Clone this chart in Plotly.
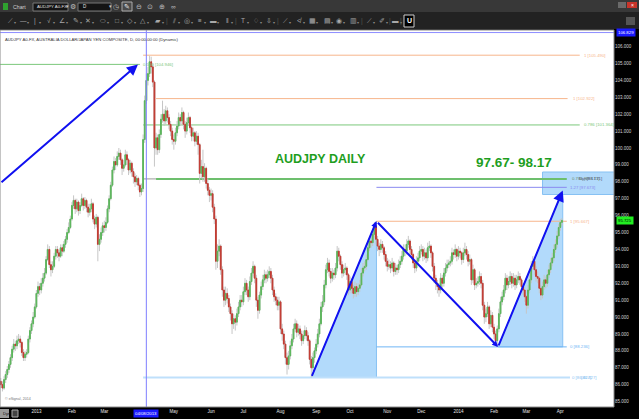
import numpy as np
import pandas as pd
import plotly.graph_objects as go

# ---------------- data (AUDJPY daily) ----------------
opens = [
    86.2, 86.0, 85.8, 86.3, 86.6,  86.9, 87.2, 87.6, 88.1, 88.4,
    88.3, 88.6, 88.7, 88.5, 87.9,  87.6, 87.8, 87.9, 88.7, 89.2,
    89.6, 90.0, 90.6, 91.4, 91.8,  91.6, 92.0, 92.3, 92.6, 93.4,
    94.0, 93.1, 92.8, 93.0, 93.6,  94.0, 93.8, 93.6, 94.1, 93.9,
    94.3, 94.6, 95.0, 95.3, 95.8,  96.6, 96.9, 96.4, 96.8, 96.3,
    96.6, 97.0, 96.6, 96.9, 96.5,  96.2, 96.4, 96.7, 95.8, 95.5,
    95.9, 94.3, 94.6, 95.0, 95.4,  95.3, 95.6, 96.4, 97.0, 97.8,
    98.7, 99.2, 99.0, 99.5, 99.7,  99.3, 98.8, 99.0, 99.6, 99.3,
    98.7, 99.1, 98.6, 98.3, 98.0,  98.2, 97.8, 97.4, 97.6, 100.5,
    102.8, 104.0, 104.4, 105.1, 104.8,  103.9, 100.0, 100.6, 99.9, 100.8,
    101.7, 102.0, 101.6, 102.2, 101.8,  101.4, 101.0, 100.5, 100.4, 100.9,
    101.3, 101.8, 101.6, 102.1, 101.4,  101.0, 101.5, 101.8, 101.2, 100.7,
    100.9, 100.4, 100.7, 100.2, 98.5,  98.9, 98.3, 98.8, 97.9, 97.5,
    97.2, 97.3, 96.5, 95.8, 93.3,  93.9, 94.2, 92.8, 91.6, 91.0,
    91.4, 91.1, 90.6, 90.2, 89.6,  89.9, 89.7, 90.2, 90.6, 91.0,
    90.9, 91.5, 92.0, 91.6, 91.2,  92.1, 92.6, 93.0, 92.3, 91.0,
    90.4, 91.3, 91.8, 92.2, 92.5,  92.3, 92.5, 92.7, 92.3, 91.6,
    91.2, 91.0, 90.7, 90.9, 89.3,  89.0, 88.4, 87.6, 87.2, 87.7,
    88.3, 88.7, 89.3, 89.6, 89.1,  89.3, 89.0, 88.6, 88.9, 89.2,
    88.9, 88.6, 87.5, 87.0, 87.6,  88.0, 88.4, 89.0, 89.6, 90.6,
    90.9, 91.9, 92.8, 93.2, 92.7,  92.3, 92.6, 92.5, 92.9, 93.9,
    93.6, 93.1, 92.6, 92.8, 92.9,  92.5, 91.6, 92.1, 91.7, 91.4,
    91.8, 91.5, 91.7, 91.9, 92.6,  92.9, 93.0, 93.4, 94.1, 94.5,
    94.4, 94.9, 95.4, 94.6, 94.2,  94.0, 94.3, 94.1, 93.7, 93.3,
    93.0, 93.1, 92.9, 93.2, 92.7,  92.9, 92.8, 93.1, 93.3, 93.6,
    94.0, 93.9, 94.3, 94.5, 94.0,  93.7, 93.2, 92.9, 93.3, 93.5,
    93.9, 94.0, 93.6, 93.8, 93.5,  94.1, 94.2, 93.8, 93.0, 92.3,
    92.0, 91.8, 91.6, 92.3, 92.0,  92.6, 92.9, 93.1, 93.2, 93.3,
    93.8, 93.7, 94.0, 93.6, 93.9,  93.8, 93.4, 93.8, 94.0, 93.7,
    93.3, 93.4, 92.2, 92.8, 91.9,  92.0, 92.1, 92.4, 92.0, 90.7,
    90.0, 90.2, 90.6, 89.6, 90.1,  89.4, 89.0, 88.6, 89.3, 90.2,
    90.9, 91.2, 91.6, 92.3, 91.9,  92.1, 92.4, 92.0, 92.3, 91.9,
    92.2, 92.4, 92.2, 91.8, 91.6,  91.2, 90.7, 91.6, 92.2, 93.0,
    93.3, 92.8, 92.4, 92.3, 91.7,  91.3, 91.8, 92.2, 92.0, 92.5,
    92.8, 93.2, 93.5, 94.0, 94.3,  94.8, 95.3, 95.6,
]
highs = [
    86.4, 86.2, 86.5, 86.8, 87.1,  87.4, 87.8, 88.3, 88.7, 88.6,
    88.9, 89.0, 88.9, 88.6, 88.1,  88.0, 88.1, 88.9, 89.4, 89.8,
    90.3, 90.8, 91.6, 92.1, 92.0,  92.3, 92.6, 92.9, 93.6, 94.3,
    94.2, 93.3, 93.3, 93.8, 94.2,  94.2, 94.0, 94.3, 94.3, 94.5,
    94.8, 95.2, 95.6, 96.0, 96.8,  97.2, 97.0, 97.0, 96.9, 96.8,
    97.3, 97.1, 97.1, 97.0, 96.7,  96.7, 97.0, 96.8, 96.0, 96.1,
    96.0, 94.9, 95.3, 95.6, 95.7,  95.9, 96.6, 97.2, 98.0, 98.9,
    99.5, 99.4, 99.8, 100.0, 99.9,  99.4, 99.3, 99.9, 99.8, 99.4,
    99.3, 99.2, 98.8, 98.5, 98.4,  98.3, 97.9, 97.9, 100.8, 103.1,
    104.4, 104.8, 105.45, 105.4, 105.0,  104.0, 100.9, 100.8, 101.1, 102.0,
    102.8, 102.3, 102.5, 102.4, 102.0,  101.6, 101.2, 100.8, 101.2, 101.6,
    102.1, 102.0, 102.4, 102.2, 101.6,  101.8, 102.1, 101.9, 101.4, 101.2,
    101.0, 101.0, 100.9, 100.3, 99.3,  99.9, 99.1, 98.9, 98.2, 97.7,
    97.6, 97.5, 96.7, 96.0, 94.3,  94.6, 94.3, 93.0, 91.8, 91.8,
    91.7, 91.3, 90.8, 90.4, 90.2,  90.1, 90.5, 90.9, 91.3, 91.3,
    91.8, 92.3, 92.2, 91.8, 92.4,  92.9, 93.3, 93.1, 92.5, 91.2,
    91.5, 92.1, 92.5, 92.8, 92.7,  92.8, 93.0, 92.9, 92.5, 91.8,
    91.4, 91.2, 91.2, 91.0, 89.6,  89.2, 88.6, 87.9, 88.0, 88.6,
    89.0, 89.6, 89.9, 89.8, 89.6,  89.5, 89.2, 89.2, 89.5, 89.4,
    89.1, 88.7, 87.7, 87.9, 88.2,  88.7, 89.3, 89.9, 90.9, 91.3,
    92.2, 93.1, 93.5, 93.4, 92.9,  92.9, 92.8, 93.2, 94.2, 94.1,
    93.7, 93.3, 93.1, 93.2, 93.0,  92.6, 92.4, 92.3, 91.9, 92.1,
    92.0, 92.0, 92.2, 92.9, 93.2,  93.3, 93.7, 94.4, 94.8, 94.8,
    95.2, 95.6, 95.667, 94.8, 94.4,  94.6, 94.5, 94.2, 93.9, 93.5,
    93.4, 93.3, 93.5, 93.3, 93.2,  93.1, 93.4, 93.6, 93.9, 94.3,
    94.3, 94.6, 94.8, 94.6, 94.2,  93.8, 93.4, 93.6, 93.8, 94.2,
    94.3, 94.2, 94.1, 94.0, 94.4,  94.5, 94.3, 93.9, 93.2, 92.5,
    92.2, 92.0, 92.6, 92.5, 92.9,  93.2, 93.4, 93.4, 93.6, 94.1,
    94.0, 94.3, 94.1, 94.2, 94.1,  93.9, 94.1, 94.4, 94.2, 93.9,
    93.7, 93.5, 93.1, 92.9, 92.3,  92.4, 92.7, 92.6, 92.2, 90.9,
    90.5, 90.9, 90.7, 90.4, 90.3,  89.6, 89.2, 89.5, 90.5, 91.2,
    91.5, 91.9, 92.6, 92.5, 92.4,  92.7, 92.6, 92.6, 92.5, 92.5,
    92.7, 92.6, 92.3, 92.0, 91.8,  91.3, 91.9, 92.5, 93.3, 93.6,
    93.4, 93.0, 92.7, 92.4, 91.9,  92.1, 92.5, 92.4, 92.8, 93.1,
    93.5, 93.8, 94.3, 94.6, 95.1,  95.5, 95.8, 95.85,
]
lows = [
    85.8, 85.6, 85.7, 86.1, 86.4,  86.7, 87.0, 87.4, 87.9, 88.0,
    88.1, 88.4, 88.2, 87.7, 87.4,  87.4, 87.6, 87.8, 88.5, 89.0,
    89.4, 89.9, 90.5, 91.2, 91.3,  91.4, 91.8, 92.1, 92.5, 93.3,
    92.9, 92.4, 92.6, 92.9, 93.4,  93.5, 93.3, 93.5, 93.6, 93.8,
    94.1, 94.4, 94.9, 95.2, 95.7,  96.4, 96.1, 96.2, 96.0, 96.1,
    96.5, 96.3, 96.4, 96.2, 95.9,  96.0, 96.2, 95.6, 95.2, 95.3,
    93.3, 93.9, 94.4, 94.8, 95.0,  95.1, 95.5, 96.2, 96.9, 97.7,
    98.5, 98.7, 98.9, 99.3, 99.0,  98.4, 98.6, 98.9, 99.0, 98.4,
    98.5, 98.3, 97.9, 97.7, 97.8,  97.5, 97.1, 97.2, 97.4, 100.3,
    102.6, 103.7, 104.2, 104.4, 103.6,  98.9, 99.6, 99.6, 99.7, 100.6,
    101.5, 101.3, 101.4, 101.5, 101.1,  100.7, 100.2, 99.9, 100.2, 100.7,
    101.1, 101.3, 101.4, 101.1, 100.6,  100.8, 101.3, 100.9, 100.4, 100.4,
    100.1, 100.2, 99.6, 97.9, 98.2,  98.0, 98.0, 97.6, 97.2, 96.8,
    96.9, 96.2, 95.5, 92.8, 92.9,  93.6, 92.5, 91.2, 90.6, 90.7,
    90.8, 90.3, 89.8, 89.0, 89.3,  89.2, 89.5, 90.0, 90.4, 90.6,
    90.7, 91.3, 91.3, 90.9, 91.0,  91.9, 92.4, 92.0, 90.6, 89.9,
    90.2, 91.1, 91.6, 92.0, 92.0,  92.1, 92.3, 92.0, 91.3, 90.9,
    90.7, 90.4, 90.4, 89.0, 88.6,  88.1, 87.2, 86.6, 86.9, 87.5,
    88.1, 88.5, 89.1, 88.8, 88.9,  88.7, 88.3, 88.4, 88.7, 88.6,
    88.3, 87.2, 86.43, 86.8, 87.3,  87.8, 88.2, 88.8, 89.5, 90.3,
    90.7, 91.7, 92.6, 92.4, 92.0,  92.1, 92.2, 92.3, 92.7, 93.3,
    92.8, 92.3, 92.4, 92.5, 92.2,  91.3, 91.4, 91.4, 91.1, 91.2,
    91.2, 91.3, 91.5, 91.8, 92.4,  92.7, 92.8, 93.3, 93.9, 94.1,
    94.2, 94.7, 94.3, 93.9, 93.6,  93.8, 93.8, 93.4, 93.0, 92.7,
    92.8, 92.6, 92.7, 92.4, 92.5,  92.5, 92.6, 92.9, 93.1, 93.4,
    93.6, 93.7, 94.1, 93.7, 93.4,  92.9, 92.6, 92.7, 93.1, 93.3,
    93.7, 93.3, 93.4, 93.2, 93.3,  93.9, 93.5, 92.7, 92.0, 91.6,
    91.4, 91.2, 91.4, 91.7, 91.8,  92.4, 92.7, 92.9, 93.0, 93.1,
    93.4, 93.5, 93.3, 93.4, 93.5,  93.1, 93.2, 93.6, 93.4, 93.0,
    93.1, 91.9, 92.0, 91.6, 91.7,  91.8, 91.9, 91.7, 90.4, 89.6,
    89.7, 90.0, 89.3, 89.4, 89.1,  88.7, 88.3, 88.236, 89.1, 90.0,
    90.7, 91.0, 91.4, 91.6, 91.7,  91.9, 91.7, 91.8, 91.6, 91.7,
    92.0, 91.9, 91.5, 91.3, 90.9,  90.2, 90.5, 91.4, 92.0, 92.8,
    92.5, 92.1, 92.0, 91.4, 91.0,  91.1, 91.6, 91.7, 91.8, 92.3,
    92.6, 93.0, 93.3, 93.8, 94.1,  94.6, 95.1, 95.4,
]
closes = [
    86.0, 85.8, 86.3, 86.6, 86.9,  87.2, 87.6, 88.1, 88.4, 88.3,
    88.6, 88.7, 88.5, 87.9, 87.6,  87.8, 87.9, 88.7, 89.2, 89.6,
    90.0, 90.6, 91.4, 91.8, 91.6,  92.0, 92.3, 92.6, 93.4, 94.0,
    93.1, 92.8, 93.0, 93.6, 94.0,  93.8, 93.6, 94.1, 93.9, 94.3,
    94.6, 95.0, 95.3, 95.8, 96.6,  96.9, 96.4, 96.8, 96.3, 96.6,
    97.0, 96.6, 96.9, 96.5, 96.2,  96.4, 96.7, 95.8, 95.5, 95.9,
    94.3, 94.6, 95.0, 95.4, 95.3,  95.6, 96.4, 97.0, 97.8, 98.7,
    99.2, 99.0, 99.5, 99.7, 99.3,  98.8, 99.0, 99.6, 99.3, 98.7,
    99.1, 98.6, 98.3, 98.0, 98.2,  97.8, 97.4, 97.6, 100.5, 102.8,
    104.0, 104.4, 105.1, 104.8, 103.9,  100.0, 100.6, 99.9, 100.8, 101.7,
    102.0, 101.6, 102.2, 101.8, 101.4,  101.0, 100.5, 100.4, 100.9, 101.3,
    101.8, 101.6, 102.1, 101.4, 101.0,  101.5, 101.8, 101.2, 100.7, 100.9,
    100.4, 100.7, 100.2, 98.5, 98.9,  98.3, 98.8, 97.9, 97.5, 97.2,
    97.3, 96.5, 95.8, 93.3, 93.9,  94.2, 92.8, 91.6, 91.0, 91.4,
    91.1, 90.6, 90.2, 89.6, 89.9,  89.7, 90.2, 90.6, 91.0, 90.9,
    91.5, 92.0, 91.6, 91.2, 92.1,  92.6, 93.0, 92.3, 91.0, 90.4,
    91.3, 91.8, 92.2, 92.5, 92.3,  92.5, 92.7, 92.3, 91.6, 91.2,
    91.0, 90.7, 90.9, 89.3, 89.0,  88.4, 87.6, 87.2, 87.7, 88.3,
    88.7, 89.3, 89.6, 89.1, 89.3,  89.0, 88.6, 88.9, 89.2, 88.9,
    88.6, 87.5, 87.0, 87.6, 88.0,  88.4, 89.0, 89.6, 90.6, 90.9,
    91.9, 92.8, 93.2, 92.7, 92.3,  92.6, 92.5, 92.9, 93.9, 93.6,
    93.1, 92.6, 92.8, 92.9, 92.5,  91.6, 92.1, 91.7, 91.4, 91.8,
    91.5, 91.7, 91.9, 92.6, 92.9,  93.0, 93.4, 94.1, 94.5, 94.4,
    94.9, 95.4, 94.6, 94.2, 94.0,  94.3, 94.1, 93.7, 93.3, 93.0,
    93.1, 92.9, 93.2, 92.7, 92.9,  92.8, 93.1, 93.3, 93.6, 94.0,
    93.9, 94.3, 94.5, 94.0, 93.7,  93.2, 92.9, 93.3, 93.5, 93.9,
    94.0, 93.6, 93.8, 93.5, 94.1,  94.2, 93.8, 93.0, 92.3, 92.0,
    91.8, 91.6, 92.3, 92.0, 92.6,  92.9, 93.1, 93.2, 93.3, 93.8,
    93.7, 94.0, 93.6, 93.9, 93.8,  93.4, 93.8, 94.0, 93.7, 93.3,
    93.4, 92.2, 92.8, 91.9, 92.0,  92.1, 92.4, 92.0, 90.7, 90.0,
    90.2, 90.6, 89.6, 90.1, 89.4,  89.0, 88.6, 89.3, 90.2, 90.9,
    91.2, 91.6, 92.3, 91.9, 92.1,  92.4, 92.0, 92.3, 91.9, 92.2,
    92.4, 92.2, 91.8, 91.6, 91.2,  90.7, 91.6, 92.2, 93.0, 93.3,
    92.8, 92.4, 92.3, 91.7, 91.3,  91.8, 92.2, 92.0, 92.5, 92.8,
    93.2, 93.5, 94.0, 94.3, 94.8,  95.3, 95.6, 95.72,
]

month_tick_dates = ["2013-01-02", "2013-02-01", "2013-03-01", "2013-05-01", "2013-06-03",
                    "2013-07-01", "2013-08-01", "2013-09-02", "2013-10-01", "2013-11-01",
                    "2013-12-02", "2014-01-02", "2014-02-03", "2014-03-03", "2014-04-01"]
month_tick_labels = ["2013", "Feb", "Mar", "May", "Jun", "Jul", "Aug", "Sep", "Oct", "Nov",
                     "Dec", "2014", "Feb", "Mar", "Apr"]
price_ticks = list(range(85, 107))

# Fibonacci / projection levels shown on the chart
fib_levels = [105.490, 104.946, 102.922, 101.364, 98.171, 97.673, 95.667, 88.236, 86.427]
crosshair_price = 106.829
crosshair_date = "2013-04-08"
last_price_label = "95.725"
target_zone = [97.67, 98.17]

# ---------------- derived positions ----------------
n = len(closes)
dates = pd.bdate_range("2012-12-03", periods=n)
xs = np.arange(n)


def pos(d):
    return int(dates.get_loc(pd.Timestamp(d)))


o = np.array(opens)
c = np.array(closes)
body_hi = np.maximum(o, c)
body_lo = np.minimum(o, c)

XR = [-0.5, 379.2]
YR = [84.68, 106.98]
PW, PH, MT = 614.0, 377.0, 30.0


def X(px):  # paper x from pixel x (chrome only)
    return px / PW


def Y(py):  # paper y from pixel y (chrome only)
    return (MT + PH - py) / PH


FONT = "Liberation Sans, Arial, sans-serif"

fig = go.Figure()
# wicks (grey)
fig.add_trace(go.Candlestick(
    x=xs, open=opens, high=highs, low=lows, close=closes,
    increasing=dict(line=dict(color="#c6c6c6", width=1), fillcolor="#c6c6c6"),
    decreasing=dict(line=dict(color="#c6c6c6", width=1), fillcolor="#c6c6c6"),
    whiskerwidth=0, showlegend=False, hoverinfo="skip"))
# coloured bodies
fig.add_trace(go.Candlestick(
    x=xs, open=opens, high=body_hi, low=body_lo, close=closes,
    increasing=dict(line=dict(color="#5cb65c", width=1), fillcolor="#5cb65c"),
    decreasing=dict(line=dict(color="#c23b32", width=1), fillcolor="#c23b32"),
    whiskerwidth=0, showlegend=False, hoverinfo="skip"))

shapes = []
annotations = []

# ---- shaded AB=CD legs and target box ----
iA, iB, iC = pos("2013-08-28"), pos("2013-10-23"), pos("2014-02-05")
pA, pB, pC = lows[iA], highs[iB], lows[iC]
xD, pD = n - 0.5, 97.49
shade = "#b2dafb"
shade_line = "#86c1f3"
shapes.append(dict(type="path", xref="x", yref="y", layer="below",
                   path=f"M {iA},{pA} L {iB + 0.3},{pB} L {iB + 0.3},{pA} Z",
                   fillcolor=shade, line=dict(color=shade_line, width=1)))
shapes.append(dict(type="path", xref="x", yref="y", layer="below",
                   path=f"M {iC + 0.5},{pC} L {xD},{pD} L {xD},{pC} Z",
                   fillcolor=shade, line=dict(color=shade_line, width=1)))
shapes.append(dict(type="rect", xref="x", yref="y", layer="below",
                   x0=335, x1=XR[1] + 2, y0=97.25, y1=98.58,
                   fillcolor=shade, line=dict(color=shade_line, width=1)))

# ---- fib lines ----
start_apr = pos("2013-04-04")
fib_draw = [
    # level, x0, x1, colour, width, label, label x
    (fib_levels[0], start_apr, 358, "#f7b58c", 1, "1 [105.490]", 359.4),
    (fib_levels[1], XR[0], 86, "#7cc87c", 1, "0.500 [104.946]", 86.4),
    (fib_levels[2], 96, 350.5, "#f7b58c", 1, "1 [102.922]", 352.6),
    (fib_levels[3], start_apr, 358, "#7cc87c", 1, "0.786 [101.364]", 359.4),
    (fib_levels[4], 96, 350, "#6dbf6d", 2, None, None),
    (fib_levels[5], iB + 0.3, 350, "#8a8af0", 1, "1.27 [97.673]", 350.6),
    (fib_levels[6], iB + 0.3, 350, "#f7b58c", 1, "1 [95.667]", 350.6),
    (fib_levels[7], iB + 0.3, 350, "#6fb6f5", 1, "0 [88.236]", 350.6),
    (fib_levels[8], start_apr, 352, "#bfe0fb", 2, "0 [86.427]", 352.0),
]
for lvl, x0, x1, col, w, lab, lx in fib_draw:
    shapes.append(dict(type="line", xref="x", yref="y", layer="below",
                       x0=x0, x1=x1, y0=lvl, y1=lvl, line=dict(color=col, width=w)))
    if lab:
        annotations.append(dict(x=lx, y=lvl, xref="x", yref="y", text=lab, showarrow=False,
                                xanchor="left", yanchor="middle",
                                font=dict(size=4.3, color=col if col != "#bfe0fb" else "#8cc4f3",
                                          family=FONT)))
shapes.append(dict(type="line", xref="x", yref="y", layer="below", x0=start_apr, x1=96,
                   y0=fib_levels[4], y1=fib_levels[4], line=dict(color="#9a9a9a", width=1)))
annotations.append(dict(x=352.0, y=fib_levels[4], xref="x", yref="y", text="0.786 [98.171]",
                        showarrow=False, xanchor="left", yanchor="middle",
                        font=dict(size=4.3, color="#6a8a6a", family=FONT)))
annotations.append(dict(x=356.5, y=fib_levels[4], xref="x", yref="y", text="Dyn[98.171]",
                        showarrow=False, xanchor="left", yanchor="middle",
                        font=dict(size=4.3, color="#555577", family=FONT)))
annotations.append(dict(x=357.5, y=fib_levels[8], xref="x", yref="y", text="[86.427]",
                        showarrow=False, xanchor="left", yanchor="middle",
                        font=dict(size=4.3, color="#8cc4f3", family=FONT)))

# ---- crosshair ----
xc = pos(crosshair_date)
shapes.append(dict(type="line", xref="x", yref="paper", x0=xc, x1=xc, y0=0, y1=1,
                   line=dict(color="#7f7fff", width=1)))
shapes.append(dict(type="line", xref="paper", yref="y", x0=0, x1=1, y0=crosshair_price,
                   y1=crosshair_price, line=dict(color="#8c8cff", width=1)))

# ---- plot frame ----
shapes.append(dict(type="rect", xref="paper", yref="paper", x0=0, x1=1, y0=0, y1=1,
                   line=dict(color="#8a8a8a", width=1), fillcolor="rgba(0,0,0,0)"))

# ---- arrows ----
BLUE = "#1010f0"
arrows = [
    (84.8, fib_levels[1], XR[0], 97.9, 1.1),
    (iB + 0.3, pB, iA, pA, 0.6),
    (iC + 0.5, pC, iB + 0.3, pB, 0.6),
    (xD, pD, iC + 0.5, pC, 1.1),
]
for hx, hy, tx, ty, sz in arrows:
    annotations.append(dict(x=hx, y=hy, ax=tx, ay=ty, xref="x", yref="y", axref="x", ayref="y",
                            text="", showarrow=True, arrowhead=2, arrowsize=sz, arrowwidth=2,
                            arrowcolor=BLUE, standoff=0, startstandoff=0))

# ---- titles ----
annotations.append(dict(x=X(320), y=Y(149.5), xref="paper", yref="paper", text="<b>AUDJPY DAILY</b>",
                        showarrow=False, font=dict(size=12.5, color="#1e9e1e", family=FONT)))
annotations.append(dict(x=X(554), y=Y(162.5), xref="paper", yref="paper",
                        text=f"<b>{target_zone[0]:.2f}- {target_zone[1]:.2f}</b>",
                        showarrow=False, font=dict(size=13.5, color="#1e9e1e", family=FONT)))
annotations.append(dict(x=X(3), y=Y(34.5), xref="paper", yref="paper", xanchor="left",
                        text="AUDJPY A0-FX, AUSTRALIA DOLLAR/JAPAN YEN COMPOSITE, D, 00:00-00:00 (Dynamic)",
                        showarrow=False, font=dict(size=4.2, color="#333333", family=FONT)))
annotations.append(dict(x=X(3), y=Y(403), xref="paper", yref="paper", xanchor="left",
                        text="© eSignal, 2014", showarrow=False,
                        font=dict(size=3.6, color="#777777", family=FONT)))

# ---- axis highlight labels ----
annotations.append(dict(x=1, y=crosshair_price, xref="paper", yref="y", xanchor="left", xshift=2,
                        text="106.829", showarrow=False, bgcolor="#1a1aff", borderpad=1,
                        font=dict(size=4.3, color="white", family=FONT)))
annotations.append(dict(x=1, y=closes[-1], xref="paper", yref="y", xanchor="left", xshift=2,
                        text=last_price_label, showarrow=False, bgcolor="#22ee22", borderpad=1,
                        font=dict(size=4.3, color="black", family=FONT)))
annotations.append(dict(x=xc, y=0, xref="x", yref="paper", yanchor="top", yshift=-2,
                        text="04/08/2013", showarrow=False, bgcolor="#1a1aff", borderpad=1,
                        font=dict(size=4.3, color="white", family=FONT)))

# ---- window chrome (toolbar) ----
shapes.append(dict(type="rect", xref="paper", yref="paper", x0=X(0), x1=X(639), y0=Y(12), y1=Y(0),
                   fillcolor="#383838", line=dict(width=0), layer="above"))
shapes.append(dict(type="rect", xref="paper", yref="paper", x0=X(0), x1=X(639), y0=Y(29), y1=Y(12),
                   fillcolor="#222222", line=dict(width=0), layer="above"))
shapes.append(dict(type="rect", xref="paper", yref="paper", x0=X(3), x1=X(8), y0=Y(10), y1=Y(3),
                   fillcolor="#2fa02f", line=dict(width=0)))
for bx0, bx1 in [(33, 68), (78, 111)]:
    shapes.append(dict(type="rect", xref="paper", yref="paper", x0=X(bx0), x1=X(bx1), y0=Y(11),
                       y1=Y(3), fillcolor="#141414", line=dict(color="#777777", width=1)))
shapes.append(dict(type="rect", xref="paper", yref="paper", x0=X(122), x1=X(132), y0=Y(11),
                   y1=Y(2), fillcolor="#4a4a4a", line=dict(color="#aaaaaa", width=1)))
shapes.append(dict(type="rect", xref="paper", yref="paper", x0=X(618), x1=X(626), y0=Y(8),
                   y1=Y(2), fillcolor="#6a6a6a", line=dict(width=0)))
shapes.append(dict(type="rect", xref="paper", yref="paper", x0=X(627), x1=X(637), y0=Y(8),
                   y1=Y(2), fillcolor="#c8342a", line=dict(width=0)))
shapes.append(dict(type="rect", xref="paper", yref="paper", x0=X(404), x1=X(414), y0=Y(27),
                   y1=Y(15), fillcolor="#000000", line=dict(color="#cccccc", width=1)))
shapes.append(dict(type="rect", xref="paper", yref="paper", x0=X(626), x1=X(635), y0=Y(25),
                   y1=Y(17), fillcolor="#555555", line=dict(width=0)))


def chrome_text(px, py, t, size=5, color="#d0d0d0", anchor="left", bold=False):
    annotations.append(dict(x=X(px), y=Y(py), xref="paper", yref="paper", xanchor=anchor,
                            yanchor="middle", text=f"<b>{t}</b>" if bold else t,
                            showarrow=False, font=dict(size=size, color=color, family=FONT)))


chrome_text(11, 7, "Chart", 5.2)
chrome_text(35, 7, "AUDJPY A0-FX", 4.3, "#e0e0e0")
chrome_text(64, 7, "▾", 4.5, "#cfcfcf")
chrome_text(73, 7, "⚙", 7, "#bdbdbd", "center")
chrome_text(81, 7, "D", 4.5, "#e0e0e0")
chrome_text(107, 7, "▾", 4.5, "#cfcfcf")
chrome_text(116, 7, "◷", 7, "#bdbdbd", "center")
chrome_text(127, 6.5, "✎", 6.5, "#f0f0f0", "center")
for px, g in [(139, "⊖"), (150, "⊙"), (162, "⊕"), (173, "∞")]:
    chrome_text(px, 7, g, 6.5, "#bdbdbd", "center")
chrome_text(632, 5, "×", 5, "white", "center")
icons = [(10, "⟋"), (23, "—"), (35, "|"), (49, "√"), (62, "∠"), (76, "✎"), (88, "✕"),
         (103, "⬭"), (117, "□"), (130, "◇"), (143, "△"), (158, "▰"), (174, "⫽"), (187, "◎"),
         (200, "≡"), (213, "▬"), (227, "‖"), (243, "T"), (256, "♢"), (269, "⇩"), (285, "⟋"),
         (299, "≮"), (312, "▦"), (327, "▤"), (339, "◉"), (353, "▥"), (369, "⟋"), (382, "✐"),
         (396, "▬")]
for px, g in icons:
    chrome_text(px, 21, g, 6.5, "#a8a8a8", "center")
    chrome_text(px + 5, 23, "▾", 3.5, "#8a8a8a", "center")
for px in [167, 236, 278, 362, 390, 401]:
    chrome_text(px, 21, "|", 6.5, "#555555", "center")
chrome_text(409, 21, "U", 7, "white", "center", bold=True)

# bottom-left widgets
shapes.append(dict(type="rect", xref="paper", yref="paper", x0=X(0), x1=X(9), y0=Y(418), y1=Y(409),
                   fillcolor="#9a9a9a", line=dict(width=0)))
shapes.append(dict(type="rect", xref="paper", yref="paper", x0=X(12), x1=X(18), y0=Y(417), y1=Y(410),
                   fillcolor="#444444", line=dict(color="#aaaaaa", width=1)))
chrome_text(0.5, 413.5, "Dyn", 4, "#111111")

fig.update_layout(
    width=639, height=419,
    margin=dict(l=0, r=25, t=30, b=12),
    paper_bgcolor="#000000", plot_bgcolor="#ffffff",
    showlegend=False,
    font=dict(family=FONT),
    shapes=shapes, annotations=annotations,
    xaxis=dict(range=XR, tickmode="array", tickvals=[pos(d) for d in month_tick_dates],
               ticktext=month_tick_labels, tickfont=dict(size=4.5, color="#e8e8e8"),
               showgrid=False, zeroline=False, ticks="", rangeslider=dict(visible=False),
               fixedrange=True),
    yaxis=dict(range=YR, side="right", tickmode="array", tickvals=price_ticks,
               ticktext=[f"{p:.3f}" for p in price_ticks], tickfont=dict(size=4.5, color="#d4d4d4"),
               showgrid=False, zeroline=False, ticks="", fixedrange=True),
)

fig.write_html("out.html", config={"displayModeBar": False},
               post_script="document.body.style.margin='0';document.body.style.background='#000';")
